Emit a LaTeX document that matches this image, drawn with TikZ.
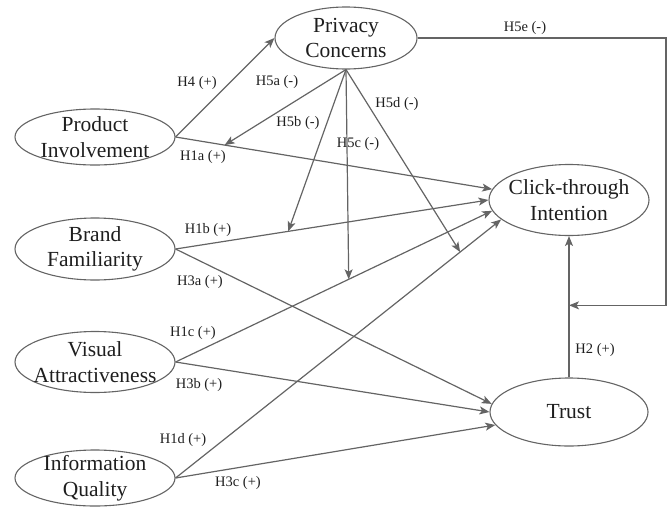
\documentclass[tikz,border=0pt]{standalone}
\usepackage{fontspec}
\setmainfont{Liberation Serif}
\usetikzlibrary{shapes.geometric,arrows.meta}
\definecolor{lc}{RGB}{100,100,100}
\definecolor{tc}{RGB}{30,30,30}
\begin{document}
\begin{tikzpicture}[x=1pt,y=-1pt,
 var/.style={ellipse,draw=lc,line width=1.1pt,inner sep=0pt},
 vtext/.style={align=center,text=tc,inner sep=0pt,font=\fontsize{21.5}{25.5}\selectfont},
 conn/.style={draw=lc,line width=1.2pt},
 arr/.style={conn,-{Stealth[length=10pt,width=8pt,inset=2.5pt]}},
 lab/.style={text=tc,inner sep=0pt,font=\fontsize{14.5}{17}\selectfont}]
\useasboundingbox (0,0) rectangle (668,506);
% variables
\node[var,minimum width=142pt,minimum height=62pt] (pc) at (346,38) {};
\node[var,minimum width=160pt,minimum height=56pt] (pi) at (95,137) {};
\node[var,minimum width=160pt,minimum height=62pt] (bf) at (95,249) {};
\node[var,minimum width=160pt,minimum height=61pt] (va) at (95,362) {};
\node[var,minimum width=160pt,minimum height=56pt] (iq) at (95,478) {};
\node[var,minimum width=160pt,minimum height=71pt] (cti) at (569,200) {};
\node[var,minimum width=158pt,minimum height=68pt] (tr) at (569,412) {};
\node[vtext] (pct) at (pc) {Privacy\\Concerns};
\node[vtext] (pit) at (pi) {Product\\Involvement};
\node[vtext] (bft) at (bf) {Brand\\Familiarity};
\node[vtext] (vat) at (va) {Visual\\Attractiveness};
\node[vtext] (iqt) at (iq) {Information\\Quality};
\node[vtext] (ctit) at (cti) {Click-through\\Intention};
\node[vtext] (trt) at (tr) {Trust};
% direct paths
\draw[arr] (pi.east) -- (pc.west);
\draw[arr] (pi.east) -- (cti.172.5) coordinate[pos=0.155] (m1);
\draw[arr] (bf.east) -- (cti.180) coordinate[pos=0.36] (m2);
\draw[arr] (va.east) -- (cti.188) coordinate[pos=0.547] (m3);
\draw[arr] (iq.east) -- (cti.196.5) coordinate[pos=0.874] (m4);
\draw[arr] (bf.east) -- (tr.174);
\draw[arr] (va.east) -- (tr.180);
\draw[arr] (iq.east) -- (tr.190);
\draw[arr] (tr.north) -- (cti.south) coordinate[pos=0.51] (m5);
% moderation
\draw[arr] (pc.south) -- (m1);
\draw[arr] (pc.south) -- (m2);
\draw[arr] (pc.south) -- (m3);
\draw[arr] (pc.south) -- (m4);
\coordinate (xr) at (666,0);
\draw[arr] (pc.east) -- (pc.east -| xr) |- (m5);
% labels
\node[lab] (l4) at (197,83) {H4 (+)};
\node[lab] (l5a) at (277,82) {H5a (-)};
\node[lab] (l5b) at (298,123) {H5b (-)};
\node[lab] (l5c) at (358,144) {H5c (-)};
\node[lab] (l5d) at (397,104) {H5d (-)};
\node[lab] (l5e) at (525,28) {H5e (-)};
\node[lab] (l1a) at (203,157) {H1a (+)};
\node[lab] (l1b) at (208,230) {H1b (+)};
\node[lab] (l3a) at (200,282) {H3a (+)};
\node[lab] (l1c) at (193,333) {H1c (+)};
\node[lab] (l3b) at (199,385) {H3b (+)};
\node[lab] (l1d) at (183,440) {H1d (+)};
\node[lab] (l3c) at (238,483) {H3c (+)};
\node[lab] (l2) at (595,350) {H2 (+)};
\end{tikzpicture}
\end{document}
